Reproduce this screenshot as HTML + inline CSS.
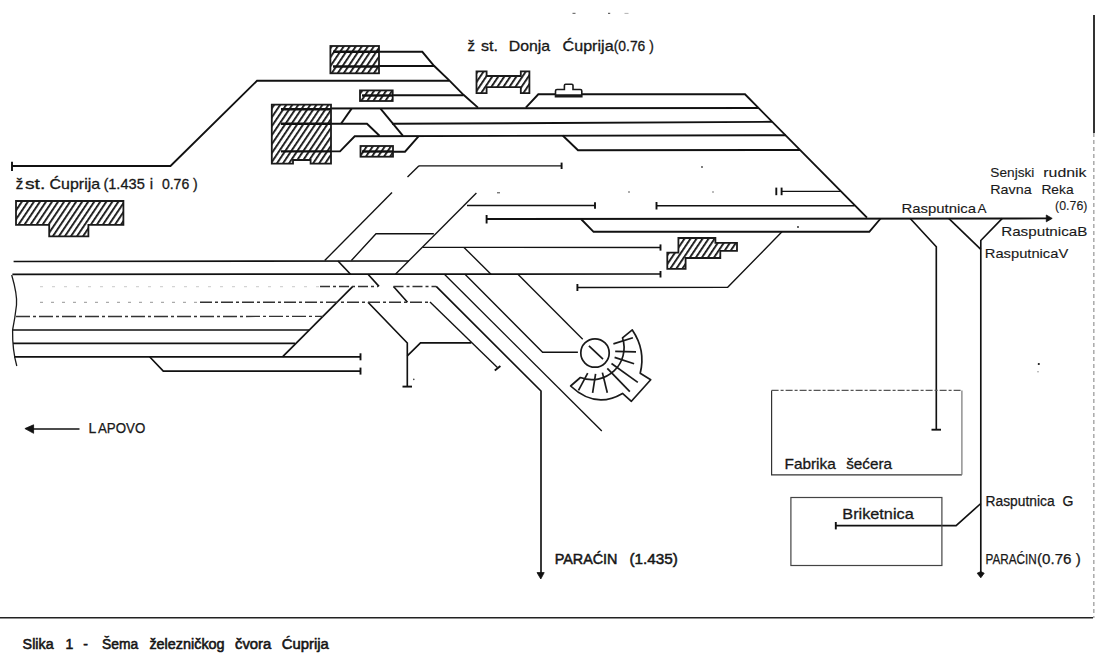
<!DOCTYPE html>
<html><head><meta charset="utf-8">
<style>
html,body{margin:0;padding:0;background:#fff;}
body{width:1095px;height:655px;overflow:hidden;}
svg{display:block;}
.t{stroke-width:1.35}
.m{stroke-width:1.65}
text{font-family:"Liberation Sans",sans-serif;fill:#1a1a1a;}
</style></head>
<body>
<svg width="1095" height="655" viewBox="0 0 1095 655">
<defs>
<pattern id="h" patternUnits="userSpaceOnUse" width="5" height="5" patternTransform="rotate(34)">
<rect width="5" height="5" fill="#fff"/>
<rect x="0" y="0" width="1.8" height="5" fill="#111"/>
</pattern>
</defs>
<rect width="1095" height="655" fill="#fff"/>
<g fill="none" stroke="#111" stroke-width="1.9" stroke-linejoin="miter" stroke-linecap="butt">
<!-- top-left track -->
<polyline points="12,166 170.5,166 257,80.8 449,80.8"/>
<line x1="12" y1="161.8" x2="12" y2="171"/>
<!-- building A tracks -->
<polyline points="333,51.8 422.3,51.8 434,65.8 449,80.1 463.5,94.8 478,107.6"/>
<line x1="333" y1="66" x2="434" y2="66"/>
<line x1="362" y1="95.3" x2="463.5" y2="95.3"/>
<!-- building C tracks -->
<line x1="281" y1="108.5" x2="758" y2="108"/>
<polyline points="281,123.7 367,123.7 379.5,135.8"/>
<line x1="341" y1="123.7" x2="351.6" y2="108.6"/>
<line x1="380.5" y1="108.6" x2="403" y2="135.8"/>
<line x1="392" y1="123.8" x2="772" y2="121.8"/>
<polyline points="281,151.4 340,151.4 354.7,136.3 786,135.2"/>
<polyline points="393,151.7 405,151.7 418.5,136.4"/>
<polyline points="562.7,135.5 578,150.3 800,150"/>
<!-- Donja line -->
<polyline points="525.8,107.6 538.3,94.3 745,94.3 867,217.6"/>
<!-- middle -->
<line x1="419" y1="165.8" x2="561.6" y2="165.8" class="t"/>
<line x1="561.6" y1="162.6" x2="561.6" y2="169"/>
<line x1="419" y1="165.8" x2="407.5" y2="177" class="t"/>
<line x1="392" y1="192.5" x2="324.7" y2="260.5" class="t"/>
<line x1="476.4" y1="193" x2="395.4" y2="274.3" class="t"/>
<line x1="467" y1="205.5" x2="595" y2="205.5" class="t"/>
<line x1="595" y1="202.3" x2="595" y2="208.8"/>
<line x1="656.5" y1="205.7" x2="854.6" y2="205.7" class="m"/>
<line x1="656.5" y1="202" x2="656.5" y2="209.5"/>
<line x1="781.6" y1="191.4" x2="840.6" y2="191.4" class="t"/>
<line x1="781.6" y1="187.6" x2="781.6" y2="195.2"/>
<line x1="776.3" y1="187.6" x2="776.3" y2="195.2"/>
<line x1="486.6" y1="219" x2="1047" y2="218.4"/>
<line x1="486.6" y1="215" x2="486.6" y2="223.5"/>
<polyline points="581,219 593.6,231.8 869.3,231.8 880.6,218.5"/>
<polyline points="351.4,260.5 376,233.7 433.8,233.7" class="t"/>
<line x1="422.9" y1="247.4" x2="660.5" y2="247.5" class="t"/>
<line x1="660.5" y1="244.4" x2="660.5" y2="250.6"/>
<line x1="464" y1="247.4" x2="491" y2="274.3" class="t"/>
<polyline points="782,231.8 727.7,287.3 577.4,287.5" class="t"/>
<line x1="577.4" y1="284" x2="577.4" y2="291"/>
<!-- Rasputnica branches -->
<polyline points="910,218.2 936.3,246.7 936.3,429.7" class="m"/>
<line x1="931.5" y1="429.7" x2="941" y2="429.7"/>
<line x1="948.7" y1="218.4" x2="980.8" y2="249.4" class="m"/>
<polyline points="1002.3,218.4 980.8,240.5 980.8,574" class="m"/>
<!-- left tracks -->
<line x1="13.6" y1="261.5" x2="409" y2="261" class="m"/>
<line x1="12.4" y1="274.3" x2="660.5" y2="274" class="m"/>
<line x1="660.5" y1="271" x2="660.5" y2="277.5"/>
<line x1="12.4" y1="330" x2="309.3" y2="330" class="m"/>
<line x1="13" y1="343.3" x2="295" y2="343.3" class="m"/>
<line x1="14" y1="356.8" x2="360.5" y2="356.8" class="m"/>
<line x1="360.5" y1="353.3" x2="360.5" y2="360.3"/>
<polyline points="149.6,356.8 163.3,371.1 360.5,371.1" class="m"/>
<line x1="360.5" y1="367.6" x2="360.5" y2="374.6"/>
<line x1="282.5" y1="356.8" x2="352.6" y2="286.6" class="m"/>
<!-- crossings near 340-420 -->
<line x1="338" y1="261" x2="350.5" y2="274.3" class="m"/>
<line x1="368" y1="274.3" x2="379" y2="286.4" class="m"/>
<line x1="393.5" y1="286.5" x2="407.5" y2="302.2" class="m"/>
<polyline points="368,302.2 407.3,343 407.3,386.6" class="m"/>
<line x1="402.5" y1="386.6" x2="412" y2="386.6"/>
<polyline points="407.3,355.8 420.5,342.8 471.3,342.8" class="m"/>
<!-- long diagonals -->
<line x1="430" y1="302.1" x2="497.4" y2="367.5" class="t"/>
<line x1="494.8" y1="370.4" x2="500.4" y2="366"/>
<polyline points="436.2,286.4 541,391 541,574" class="m"/>
<line x1="444.4" y1="274.3" x2="601.8" y2="431" class="t"/>
<polyline points="465,274.3 542.6,352.2 577.9,352.2" class="t"/>
<line x1="517.9" y1="274.3" x2="582.7" y2="339.2" class="t"/>
<!-- Briketnica -->
<polyline points="835.8,525.6 956.1,525.6 980.8,503.5" class="m"/>
<line x1="835.8" y1="522" x2="835.8" y2="529.4"/>
<!-- LAPOVO arrow line -->
<line x1="33" y1="429" x2="79.5" y2="429" class="t"/>
</g>
<!-- dashed lines -->
<g fill="none" stroke="#333" stroke-width="1.4">
<line x1="40" y1="286.6" x2="320" y2="286.6" stroke="#d4d4d4" stroke-dasharray="3 9"/>
<line x1="320" y1="286.5" x2="378" y2="286.5" stroke-dasharray="10 3 3 3"/>
<line x1="393.5" y1="286.5" x2="436" y2="286.5" stroke-dasharray="10 3 3 3"/>
<line x1="40" y1="302.4" x2="200" y2="302.4" stroke="#aaa" stroke-dasharray="3 8"/>
<line x1="200" y1="302.3" x2="430" y2="302.3" stroke-dasharray="12 3 3 3"/>
<line x1="16" y1="316.5" x2="323" y2="316.4" stroke-dasharray="14 3 3 3"/>
</g>
<!-- arrows -->
<g fill="#111" stroke="#111" stroke-width="0.8" stroke-linejoin="round">
<polygon points="1052.2,218.4 1046.3,215 1046.3,221.8"/>
<polygon points="540.8,579 537,572.6 544.2,572.6"/>
<polygon points="980.8,577.8 977.2,573.2 980.8,571.6 984.2,573.2"/>
<polygon points="24.9,428.6 33.6,424.8 33.6,433.3"/>
</g>
<!-- hatched buildings -->
<g fill="url(#h)" stroke="#1a1a1a" stroke-width="1.8">
<rect x="330.4" y="46" width="48.6" height="27.3"/>
<rect x="360" y="90.4" width="32.7" height="10.6"/>
<polygon points="271.8,104.6 331,104.6 331,163.7 310.6,163.7 310.6,160 293,160 293,163.7 271.8,163.7"/>
<rect x="360.5" y="146" width="32.5" height="10.7"/>
<polygon points="476.5,71.3 486.6,71.3 486.6,76 520.8,76 520.8,71.3 529.4,71.3 529.4,93.1 520.8,93.1 520.8,87.2 486.6,87.2 486.6,93.1 476.5,93.1"/>
<polygon points="16,201 123.4,201 123.4,224.8 88.4,224.8 88.4,236.4 49.2,236.4 49.2,224.8 16,224.8"/>
<polygon points="678.4,238 715.4,238 715.4,242.9 737,242.9 737,250.9 720.3,250.9 720.3,258 685.6,258 685.6,268.8 667.3,268.8 667.3,252.7 678.4,252.7"/>
</g>
<!-- tracks through buildings (thick) -->
<g stroke="#111" stroke-width="2.4" fill="none">
<line x1="333" y1="51.8" x2="379" y2="51.8"/>
<line x1="333" y1="66.5" x2="379" y2="66.5"/>
<line x1="362" y1="95.5" x2="393" y2="95.5"/>
<line x1="281" y1="109.2" x2="331" y2="109.2"/>
<line x1="281" y1="123.7" x2="331" y2="123.7"/>
<line x1="281" y1="151.4" x2="331" y2="151.4"/>
<line x1="362" y1="151.5" x2="393" y2="151.5"/>
</g>
<!-- small platform shape -->
<path d="M555.5,96.7 L555.5,91 Q555.5,89.5 557,89.5 L564.4,89.5 L564.4,85.5 Q564.4,84.3 565.6,84.3 L571.8,84.3 Q573,84.3 573,85.5 L573,89.5 L580.3,89.5 Q581.8,89.5 581.8,91 L581.8,96.7 Z" fill="#fff" stroke="#1a1a1a" stroke-width="1.6"/>
<line x1="556" y1="95.5" x2="581.5" y2="95.5" stroke="#1a1a1a" stroke-width="2.5"/>
<!-- boxes -->
<g fill="none" stroke="#444" stroke-width="1.2">
<polyline points="961.9,474.8 771.6,474.8 771.6,390.4" stroke="#333"/>
<line x1="961.9" y1="390.4" x2="961.9" y2="474.8" stroke="#777"/>
<line x1="771.6" y1="390.4" x2="961.9" y2="390.4" stroke="#555" stroke-dasharray="7 2 3 2"/>
<rect x="790.9" y="497.5" width="151" height="68"/>
</g>
<!-- left brace -->
<path d="M11.7,275 Q17.5,295 16.5,305 Q15,318 12.6,330 Q12.3,350 16.8,366" fill="none" stroke="#1a1a1a" stroke-width="1.3"/>
<!-- frame -->
<line x1="0" y1="617.8" x2="1093" y2="617.8" stroke="#222" stroke-width="1.6"/>
<line x1="1094" y1="15" x2="1094" y2="133" stroke="#333" stroke-width="2"/>
<line x1="1093.8" y1="133" x2="1093.8" y2="618" stroke="#aaa" stroke-width="1.5" stroke-dasharray="4 3"/>
<!-- turntable -->
<g fill="none" stroke="#1a1a1a" stroke-width="1.7">
<circle cx="595" cy="353" r="14.2"/>
<line x1="588.9" y1="345.8" x2="603" y2="359.2"/>
<path d="M622.5,337.8 L632.3,329.9 Q646,350 640.2,373.2 L650.7,379.8 L631.4,401.3 L622.5,393.4 Q595.4,409.3 570.6,386 L580.4,377.5 A32,32 0 0 0 622.5,337.8 Z" stroke-linejoin="round"/>
<line x1="613.4" y1="343.9" x2="632.9" y2="337.8"/>
<line x1="615.2" y1="351.3" x2="636" y2="351.9"/>
<line x1="614.6" y1="357.4" x2="634.1" y2="363.8"/>
<line x1="611.5" y1="363.5" x2="637.8" y2="382.4"/>
<line x1="607.3" y1="368.4" x2="629.8" y2="391.6"/>
<line x1="602.4" y1="372.6" x2="607.3" y2="392.8"/>
<line x1="595.6" y1="373.9" x2="592.6" y2="392.8"/>
<line x1="587.7" y1="373.2" x2="578.5" y2="390.3"/>
</g>
<!-- specks -->
<g fill="#444">
<circle cx="702" cy="167" r="0.9"/>
<circle cx="629" cy="192" r="0.8"/>
<circle cx="713" cy="192" r="0.7"/>
<circle cx="798" cy="227" r="0.9" fill="#222"/>
<rect x="497" y="192.3" width="3" height="1"/>
<circle cx="1038.8" cy="364" r="1.1" fill="#111"/>
<circle cx="1038" cy="371.7" r="0.8" fill="#999"/>
<circle cx="413.8" cy="379.4" r="0.8"/>
<rect x="572.5" y="12.8" width="3" height="1.1" fill="#666"/>
<rect x="608" y="12.8" width="2.2" height="1.1" fill="#555"/>
<rect x="624.5" y="12.9" width="4" height="0.9" fill="#aaa"/>
</g>
<!-- texts -->
<g stroke="#111" stroke-width="0.5">
<text x="467.6" y="50.5" font-size="15" stroke-width="0.3">ž</text>
<text x="481.0" y="50.5" font-size="15" stroke-width="0.3" textLength="17.0" lengthAdjust="spacingAndGlyphs">st.</text>
<text x="508.7" y="50.5" font-size="15" stroke-width="0.3" textLength="41.4" lengthAdjust="spacingAndGlyphs">Donja</text>
<text x="562.6" y="50.5" font-size="15" stroke-width="0.3" textLength="51.0" lengthAdjust="spacingAndGlyphs">Ćuprija</text>
<text x="613.7" y="50.5" font-size="15" stroke-width="0.3" textLength="40.1" lengthAdjust="spacingAndGlyphs">(0.76 )</text>
<text x="15.8" y="189.2" font-size="15" stroke-width="0.3">ž</text>
<text x="24.9" y="189.2" font-size="15" stroke-width="0.3" textLength="20.4" lengthAdjust="spacingAndGlyphs">st.</text>
<text x="49.6" y="189.2" font-size="15" stroke-width="0.3" textLength="50.5" lengthAdjust="spacingAndGlyphs">Ćuprija</text>
<text x="103.4" y="189.2" font-size="15" stroke-width="0.3" textLength="41.4" lengthAdjust="spacingAndGlyphs">(1.435</text>
<text x="149.7" y="189.2" font-size="15" stroke-width="0.3">i</text>
<text x="161.9" y="189.2" font-size="15" stroke-width="0.3" textLength="35.9" lengthAdjust="spacingAndGlyphs">0.76 )</text>
<text x="901.4" y="213" font-size="13.5" stroke-width="0.12" textLength="74.6" lengthAdjust="spacingAndGlyphs">Rasputnica</text>
<text x="977.4" y="213" font-size="13.5" stroke-width="0.12">A</text>
<text x="990.3" y="176.6" font-size="13.5" stroke-width="0.12" textLength="44.1" lengthAdjust="spacingAndGlyphs">Senjski</text>
<text x="1043.3" y="176.6" font-size="13.5" stroke-width="0.12" textLength="43.2" lengthAdjust="spacingAndGlyphs">rudnik</text>
<text x="990.3" y="193.8" font-size="13.5" stroke-width="0.12" textLength="41.3" lengthAdjust="spacingAndGlyphs">Ravna</text>
<text x="1041.4" y="193.8" font-size="13.5" stroke-width="0.12" textLength="32.2" lengthAdjust="spacingAndGlyphs">Reka</text>
<text x="1055.1" y="210.2" font-size="13" stroke-width="0.12" textLength="32.3" lengthAdjust="spacingAndGlyphs">(0.76)</text>
<text x="1001.2" y="235.6" font-size="13.5" stroke-width="0.12" textLength="86.2" lengthAdjust="spacingAndGlyphs">RasputnicaB</text>
<text x="984.8" y="257.7" font-size="13.5" stroke-width="0.12" textLength="83.4" lengthAdjust="spacingAndGlyphs">RasputnicaV</text>
<text x="88.4" y="432.5" font-size="14" stroke-width="0.25">L</text>
<text x="98.0" y="432.5" font-size="14" stroke-width="0.25" textLength="47.3" lengthAdjust="spacingAndGlyphs">APOVO</text>
<text x="554.7" y="564" font-size="15" stroke-width="0.5" textLength="62.8" lengthAdjust="spacingAndGlyphs">PARAĆIN</text>
<text x="629.4" y="564" font-size="15" stroke-width="0.5" textLength="48.4" lengthAdjust="spacingAndGlyphs">(1.435)</text>
<text x="784.5" y="468.6" font-size="15" stroke-width="0.3" textLength="51.3" lengthAdjust="spacingAndGlyphs">Fabrika</text>
<text x="846.2" y="468.6" font-size="15" stroke-width="0.3" textLength="45.9" lengthAdjust="spacingAndGlyphs">šećera</text>
<text x="842.3" y="519.4" font-size="15" stroke-width="0.3" textLength="71.4" lengthAdjust="spacingAndGlyphs">Briketnica</text>
<text x="985.5" y="506" font-size="14" stroke-width="0.25" textLength="69.1" lengthAdjust="spacingAndGlyphs">Rasputnica</text>
<text x="1062.5" y="506" font-size="14" stroke-width="0.25">G</text>
<text x="985.5" y="563.5" font-size="14" stroke-width="0.25" textLength="51.3" lengthAdjust="spacingAndGlyphs">PARAĆIN</text>
<text x="1037.0" y="563.5" font-size="14" stroke-width="0.25" textLength="43.7" lengthAdjust="spacingAndGlyphs">(0.76 )</text>
<text x="22.6" y="649.2" font-size="14" stroke-width="0.55" textLength="31.0" lengthAdjust="spacingAndGlyphs">Slika</text>
<text x="65.5" y="649.2" font-size="14" stroke-width="0.55">1</text>
<text x="83.3" y="649.2" font-size="14" stroke-width="0.55">-</text>
<text x="102.1" y="649.2" font-size="14" stroke-width="0.55" textLength="36.2" lengthAdjust="spacingAndGlyphs">Šema</text>
<text x="149.4" y="649.2" font-size="14" stroke-width="0.55" textLength="75.2" lengthAdjust="spacingAndGlyphs">železničkog</text>
<text x="235.0" y="649.2" font-size="14" stroke-width="0.55" textLength="36.3" lengthAdjust="spacingAndGlyphs">čvora</text>
<text x="281.8" y="649.2" font-size="14" stroke-width="0.55" textLength="47.1" lengthAdjust="spacingAndGlyphs">Ćuprija</text>
</g>
</svg>
</body></html>
